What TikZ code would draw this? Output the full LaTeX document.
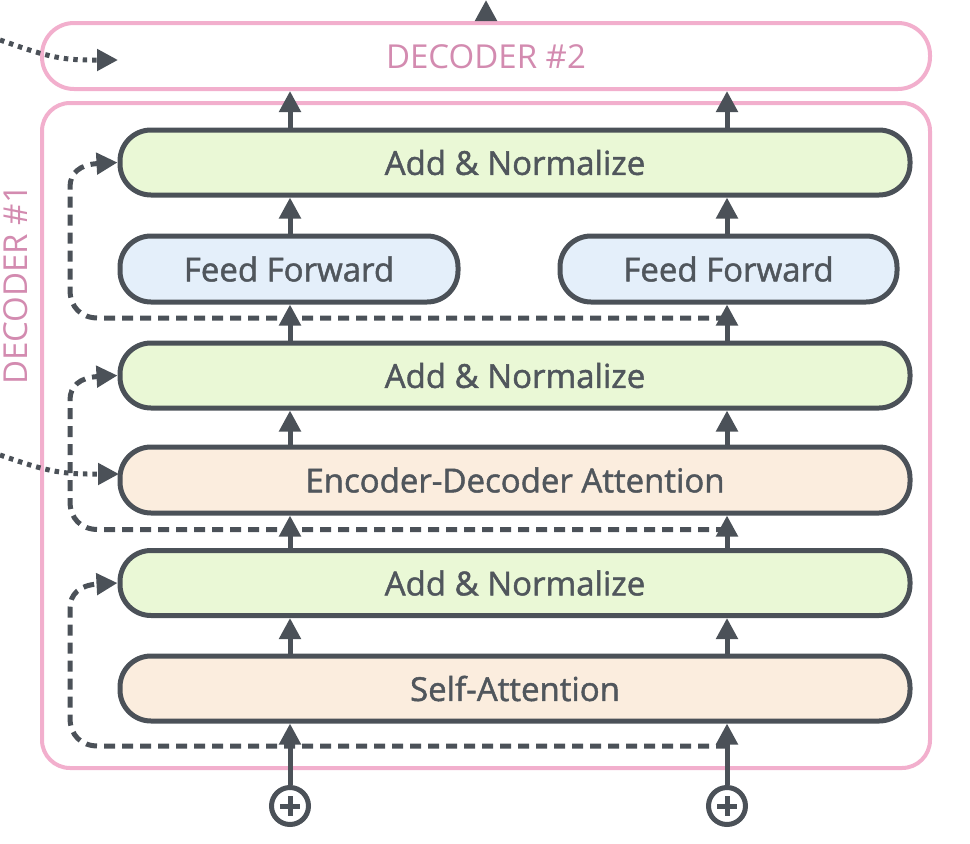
\documentclass[tikz,border=0pt]{standalone}
\usepackage{fontspec}
\setmainfont{Open Sans}
\newfontfamily\boxfont{Open Sans}[FakeBold=1.4]
\usetikzlibrary{arrows.meta,calc}
\definecolor{ink}{HTML}{4B5158}
\definecolor{txt}{HTML}{50565C}
\definecolor{pinkline}{HTML}{F2AFCD}
\definecolor{pinktxt}{HTML}{D38BB0}
\definecolor{greenfill}{HTML}{EAF8D6}
\definecolor{bluefill}{HTML}{E4EFFA}
\definecolor{peachfill}{HTML}{FBEDDE}
\begin{document}
\begin{tikzpicture}[x=1pt,y=-1pt,
  box/.style={draw=ink, line width=5pt, rounded corners=31pt, minimum height=65pt,
    inner sep=0pt, font=\boxfont\fontsize{33}{39}\selectfont, text=txt},
  layer/.style={draw=pinkline, line width=4pt, inner sep=0pt},
  pinklabel/.style={font=\fontsize{33}{39}\selectfont, text=pinktxt},
  arr/.style={draw=ink, line width=5pt, -{Triangle[length=21pt,width=21pt]}},
  res/.style={draw=ink, line width=5pt, dash pattern=on 11pt off 7pt,
    -{Triangle[length=21pt,width=21pt]}},
  dotarrow/.style={draw=ink, line width=5pt, dash pattern=on 4.5pt off 5pt,
    -{Triangle[length=21pt,width=21pt]}},
  circ/.style={circle, draw=ink, line width=5pt, minimum size=37pt, inner sep=0pt,
    path picture={\draw[ink, line width=5pt]
      ($(path picture bounding box.center)+(-10,0)$) -- ++(20,0)
      ($(path picture bounding box.center)+(0,-10)$) -- ++(0,20);}}
]
\useasboundingbox (0,0) rectangle (970,844);

% column coordinates
\coordinate (L) at (290,0);
\coordinate (R) at (727,0);
\coordinate (top) at (486,0);

% layer frames
\node[layer, rounded corners=28pt, minimum width=888pt, minimum height=665pt] (dec1) at (486,435.5) {};
\node[layer, rounded corners=32pt, minimum width=888pt, minimum height=66pt] (dec2) at (486,56) {};
\node[pinklabel] (lab2) at (486,57) {DECODER \#2};
\node[pinklabel, rotate=90] (lab1) at (16,285) {DECODER \#1};

% sublayer boxes
\node[box, fill=greenfill, minimum width=790pt] (an3) at (515,162.5) {Add \& Normalize};
\node[box, fill=bluefill, minimum width=338pt, minimum height=66pt] (ffL) at (289,269) {Feed Forward};
\node[box, fill=bluefill, minimum width=337pt, minimum height=66pt] (ffR) at (728.5,269) {Feed Forward};
\node[box, fill=greenfill, minimum width=790pt] (an2) at (515,375.5) {Add \& Normalize};
\node[box, fill=peachfill, minimum width=790pt, minimum height=66pt] (eda) at (515,480) {Encoder-Decoder Attention};
\node[box, fill=greenfill, minimum width=790pt] (an1) at (515,583) {Add \& Normalize};
\node[box, fill=peachfill, minimum width=790pt] (sa) at (515,688.5) {Self-Attention};

% inputs
\node[circ] (cL) at (290,806) {};
\node[circ] (cR) at (727,806) {};

% free ends
\coordinate (dtop) at (118,60);
\coordinate (dmid) at (119,474);
\coordinate (s0) at (0,40);
\coordinate (s1) at (0,455);

% residual connections
\draw[res] (R |- 0,746) -- (98,746) .. controls (81,746) and (70,735) .. (70,718)
  -- (70,608) .. controls (70,594) and (80,585) .. (an1.west);
\draw[res] (R |- 0,529.5) -- (98,529.5) .. controls (81,529.5) and (70,518.5) .. (70,501.5)
  -- (70,400) .. controls (70,386) and (80,377.5) .. (an2.west);
\draw[res] (R |- 0,318) -- (98,318) .. controls (81,318) and (70,307) .. (70,290)
  -- (70,187) .. controls (70,173) and (80,164.5) .. (an3.west);

% dotted encoder inputs
\draw[dotarrow] (s0) .. controls (35,52) and (55,60) .. (88,60) -- (dtop);
\draw[dotarrow] (s1) .. controls (35,467) and (55,474) .. (88,474) -- (dmid);

% forward flow
\draw[arr] (cL.north) -- (sa.south -| L);
\draw[arr] (cR.north) -- (sa.south -| R);
\draw[arr] (sa.north -| L) -- (an1.south -| L);
\draw[arr] (sa.north -| R) -- (an1.south -| R);
\draw[arr] (an1.north -| L) -- (eda.south -| L);
\draw[arr] (an1.north -| R) -- (eda.south -| R);
\draw[arr] (eda.north -| L) -- (an2.south -| L);
\draw[arr] (eda.north -| R) -- (an2.south -| R);
\draw[arr] (an2.north -| L) -- (ffL.south -| L);
\draw[arr] (an2.north -| R) -- (ffR.south -| R);
\draw[arr] (ffL.north -| L) -- (an3.south -| L);
\draw[arr] (ffR.north -| R) -- (an3.south -| R);
\draw[arr] (an3.north -| L) -- (dec2.south -| L);
\draw[arr] (an3.north -| R) -- (dec2.south -| R);
\draw[arr] (dec2.north) -- (top);
\end{tikzpicture}
\end{document}
